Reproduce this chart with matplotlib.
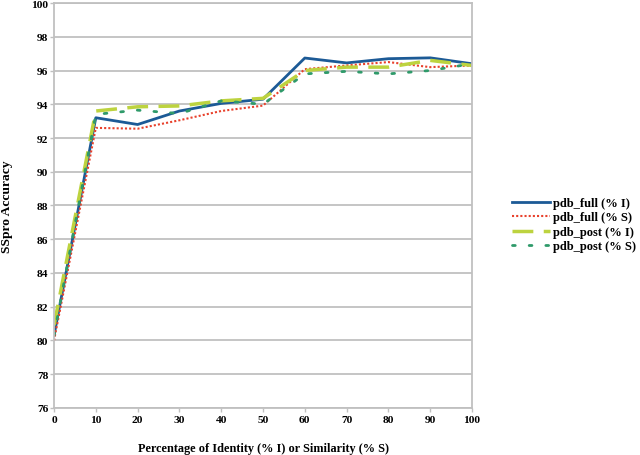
import matplotlib
matplotlib.use("Agg")
import matplotlib.pyplot as plt

# percentage of identity / similarity thresholds
pct = [0, 10, 20, 30, 40, 50, 60, 70, 80, 90, 100]

pdb_full_i = [80.3, 93.2, 92.8, 93.6, 94.05, 94.3, 96.74, 96.45, 96.7, 96.75, 96.4]
pdb_full_s = [80.0, 92.6, 92.55, 93.05, 93.6, 93.92, 96.08, 96.3, 96.5, 96.2, 96.3]
pdb_post_i = [80.9, 93.6, 93.85, 93.9, 94.2, 94.35, 96.0, 96.2, 96.2, 96.6, 96.3]
pdb_post_s = [80.3, 93.4, 93.65, 93.45, 94.2, 94.0, 95.8, 95.95, 95.8, 96.0, 96.4]

labels = ["pdb_full (% I)", "pdb_full (% S)", "pdb_post (% I)", "pdb_post (% S)"]
xticks = list(range(0, 101, 10))
yticks = list(range(76, 101, 2))

plt.rcParams["font.family"] = ["Liberation Serif", "DejaVu Serif"]
plt.rcParams["font.weight"] = "bold"

fig = plt.figure(figsize=(6.4, 4.56), dpi=100)
ax = fig.add_axes([0.0844, 0.1031, 0.6531, 0.8881])

grid_col = "#c0c0c0"

ax.plot(pct, pdb_full_i, color="#1c5a96", lw=2.0, label=labels[0])
ax.plot(pct, pdb_full_s, color="#e8412c", lw=1.5, ls=(0, (1, 1)), label=labels[1])
ax.plot(pct, pdb_post_i, color="#bdd33f", lw=2.5, ls=(0, (6, 3)), label=labels[2])
ax.plot(pct, pdb_post_s, color="#2f9a6a", lw=2.0, ls=(0, (1, 5)),
        dash_capstyle="round", label=labels[3])

ax.set_xlim(0, 100)
ax.set_ylim(76, 100)
ax.set_xticks(xticks)
ax.set_yticks(yticks)
ax.yaxis.grid(True, color=grid_col, lw=1.3)
ax.set_axisbelow(True)
for s in ax.spines.values():
    s.set_color(grid_col)
    s.set_linewidth(1.3)

ax.tick_params(axis="both", direction="out", length=3, color=grid_col,
               labelsize=8.2, width=1.0)
ax.tick_params(axis="y", pad=1)
ax.tick_params(axis="x", pad=2)
for t in ax.get_xticklabels() + ax.get_yticklabels():
    t.set_fontweight("bold")

ax.set_xlabel("Percentage of Identity (% I) or Similarity (% S)",
              fontsize=8.8, fontweight="bold", labelpad=13)
ax.set_ylabel("SSpro Accuracy", fontsize=9.7, fontweight="bold", labelpad=13)

leg = ax.legend(loc="center left", bbox_to_anchor=(0.8, 0.505),
                bbox_transform=fig.transFigure, frameon=False,
                fontsize=9, handlelength=3.0, handletextpad=0.25,
                labelspacing=0.2, borderpad=0, borderaxespad=0)
for t in leg.get_texts():
    t.set_fontweight("bold")

fig.savefig("out.png", dpi=100)
